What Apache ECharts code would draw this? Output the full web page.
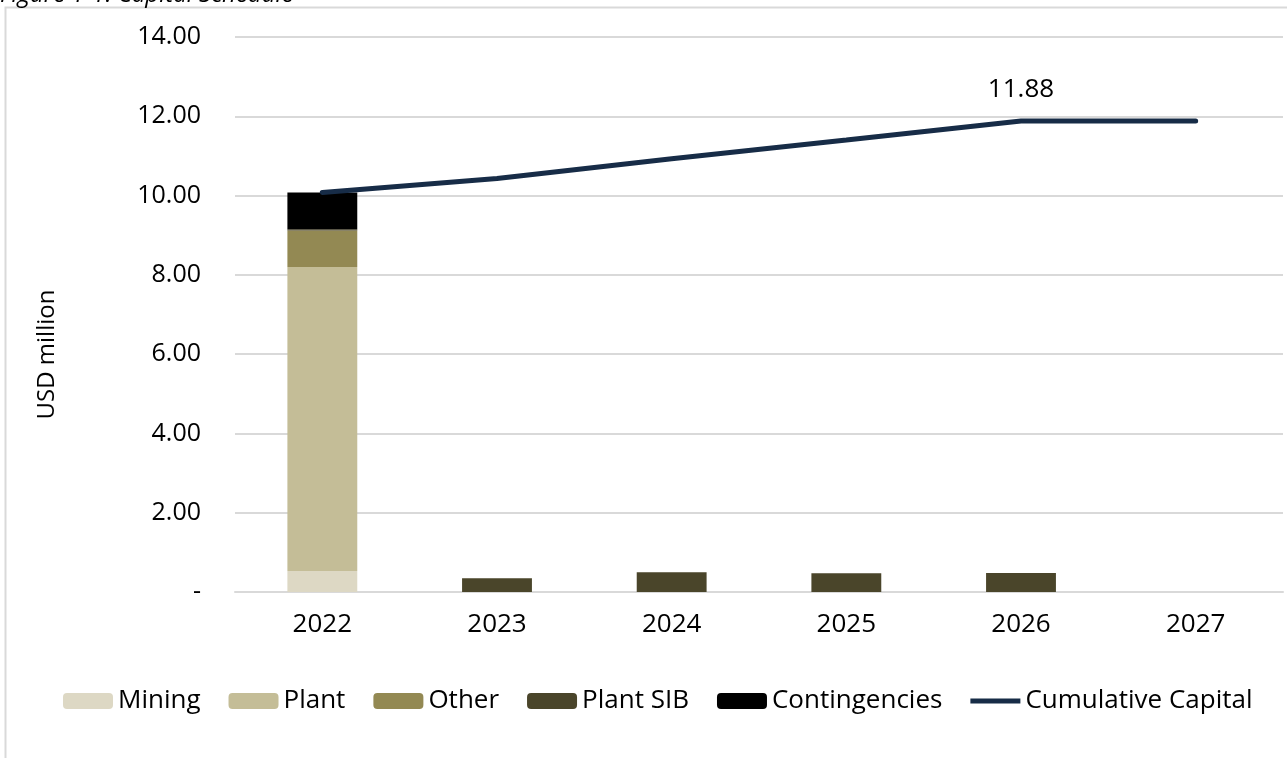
<!DOCTYPE html>
<html lang="en" style="height: 100%">
<head>
  <meta charset="utf-8">
</head>
<body style="height: 100%; margin: 0; background: #fff">
  <div id="container" style="height: 100%"></div>

  <script type="text/javascript" src="https://cdn.jsdelivr.net/npm/echarts@6/dist/echarts.min.js"></script>

  <script type="text/javascript">
    var dom = document.getElementById('container');
    var myChart = echarts.init(dom, null, { renderer: 'canvas' });

    const years = ['2022', '2023', '2024', '2025', '2026', '2027'];
    const mining = [0.53, 0, 0, 0, 0, 0];
    const plant = [7.67, 0, 0, 0, 0, 0];
    const other = [0.92, 0, 0, 0, 0, 0];
    const plantSIB = [0.03, 0.35, 0.50, 0.47, 0.48, 0];
    const contingencies = [0.93, 0, 0, 0, 0, 0];
    const cumulative = [10.08, 10.43, 10.93, 11.40, 11.88, 11.88];
    const labelIndex = 4; // only the 2026 point carries its value

    const font = 'Open Sans';
    const lineColor = '#172c47';

    function barSeries(name, data, color) {
      return {
        name: name,
        type: 'bar',
        stack: 'capex',
        barWidth: '40%',
        data: data,
        itemStyle: { color: color },
        emphasis: { disabled: true }
      };
    }

    var option = {
      animation: false,
      graphic: [
        {
          type: 'rect',
          shape: { x: 5.5, y: 7.5, width: 1400, height: 800 },
          style: { fill: 'none', stroke: '#d9d9d9', lineWidth: 2 },
          silent: true
        },
        {
          type: 'text',
          x: 0,
          y: 7,
          style: {
            text: 'Figure 1-1: Capital Schedule',
            font: 'italic 24px "Open Sans"',
            fill: '#000',
            verticalAlign: 'bottom'
          }
        }
      ],
      legend: {
        left: 58,
        top: 683,
        itemWidth: 50,
        itemHeight: 16,
        itemGap: 28,
        textStyle: { fontFamily: font, fontSize: 26, color: '#000' },
        data: [
          'Mining', 'Plant', 'Other', 'Plant SIB', 'Contingencies',
          { name: 'Cumulative Capital', icon: 'path://M0,0 L60,0 L60,6 L0,6 Z' }
        ]
      },
      grid: {
        left: 235,
        right: 4,
        top: 37,
        bottom: 166,
        containLabel: false
      },
      xAxis: {
        type: 'category',
        data: years,
        axisLine: { lineStyle: { color: '#d9d9d9', width: 2 } },
        axisTick: { show: false },
        axisLabel: { fontFamily: font, fontSize: 26, color: '#000', margin: 20 }
      },
      yAxis: {
        type: 'value',
        min: 0,
        max: 14,
        interval: 2,
        name: 'USD million',
        nameLocation: 'middle',
        nameGap: 176,
        nameTextStyle: { fontFamily: font, fontSize: 24, color: '#000', padding: [0, 80, 0, 0] },
        axisLine: { show: false },
        axisTick: { show: false },
        splitLine: { lineStyle: { color: '#d9d9d9', width: 2 } },
        axisLabel: {
          fontFamily: font,
          fontSize: 25,
          color: '#000',
          margin: 34,
          formatter: function (v) {
            return v === 0 ? '-' : v.toFixed(2);
          }
        }
      },
      series: [
        barSeries('Mining', mining, '#ddd8c4'),
        barSeries('Plant', plant, '#c4bd97'),
        barSeries('Other', other, '#938953'),
        barSeries('Plant SIB', plantSIB, '#4a452a'),
        barSeries('Contingencies', contingencies, '#000000'),
        {
          name: 'Cumulative Capital',
          type: 'line',
          symbol: 'circle',
          symbolSize: 1,
          showSymbol: true,
          data: cumulative.map(function (v, i) {
            return i === labelIndex ? { value: v, label: { show: true } } : v;
          }),
          lineStyle: { color: lineColor, width: 5, cap: 'round' },
          itemStyle: { color: lineColor },
          label: {
            show: false,
            position: 'top',
            distance: 18,
            fontFamily: font,
            fontSize: 26,
            color: '#000',
            formatter: function (p) { return p.value.toFixed(2); }
          },
          emphasis: { disabled: true },
          z: 5
        }
      ]
    };

    myChart.setOption(option);
    window.addEventListener('resize', myChart.resize);
  </script>
</body>
</html>
